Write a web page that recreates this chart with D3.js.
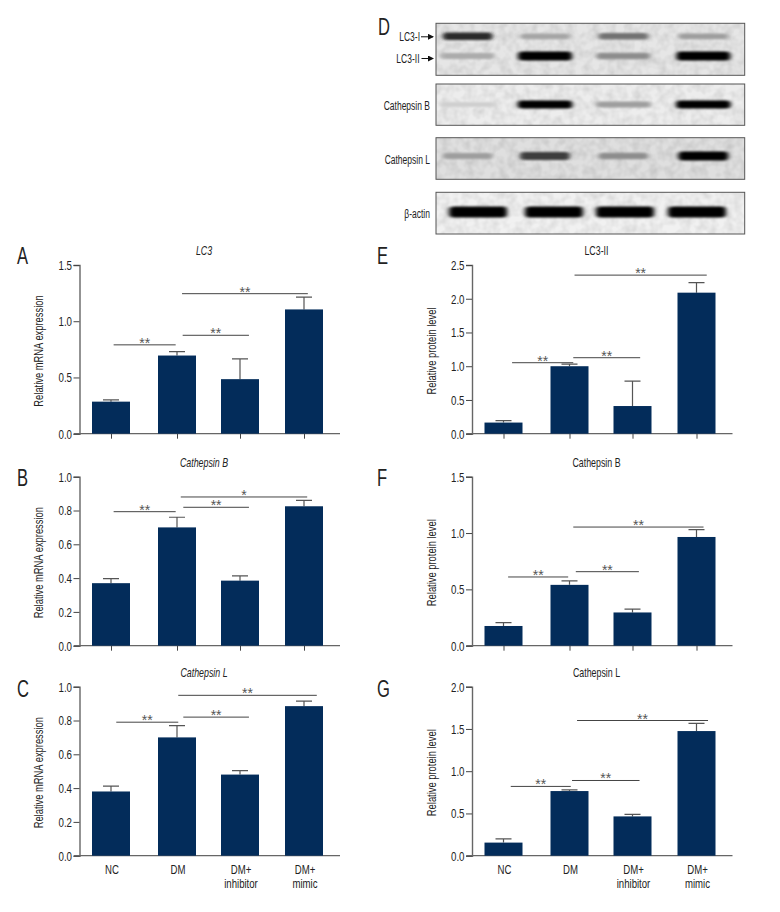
<!DOCTYPE html>
<html>
<head>
<meta charset="utf-8">
<script src="https://cdn.jsdelivr.net/npm/d3@7"></script>
<style>
  html, body { margin: 0; background: #fff; }
  text { font-family: "Liberation Sans", sans-serif; fill: #222; }
</style>
</head>
<body>
<div id="graph"></div>
<script>
const categories = ["NC", "DM", "DM+ inhibitor", "DM+ mimic"];

// bar heights and error bars
const lc3Mrna = [0.285, 0.695, 0.485, 1.105];
const lc3MrnaErr = [0.015, 0.035, 0.18, 0.11];
const catBMrna = [0.37, 0.70, 0.385, 0.825];
const catBMrnaErr = [0.027, 0.06, 0.028, 0.035];
const catLMrna = [0.38, 0.70, 0.48, 0.885];
const catLMrnaErr = [0.032, 0.07, 0.023, 0.03];
const lc3Protein = [0.165, 1.0, 0.41, 2.09];
const lc3ProteinErr = [0.03, 0.03, 0.37, 0.15];
const catBProtein = [0.175, 0.54, 0.295, 0.965];
const catBProteinErr = [0.03, 0.035, 0.03, 0.065];
const catLProtein = [0.155, 0.765, 0.465, 1.475];
const catLProteinErr = [0.045, 0.015, 0.025, 0.09];

// significance brackets: from group, to group, y value, stars
const lc3MrnaSig = [[0.04, 0.98, 0.79, "**"], [1.09, 2.14, 0.875, "**"], [1.08, 3.06, 1.245, "**"]];
const catBMrnaSig = [[0.04, 0.98, 0.793, "**"], [1.1, 2.14, 0.819, "**"], [1.06, 3.05, 0.88, "*"]];
const catLMrnaSig = [[0.08, 1.02, 0.79, "**"], [1.1, 2.14, 0.82, "**"], [1.02, 3.2, 0.949, "**"]];
const lc3ProteinSig = [[0.13, 1.06, 1.052, "**"], [1.06, 2.12, 1.126, "**"], [1.08, 3.16, 2.35, "**"]];
const catBProteinSig = [[0.07, 0.98, 0.61, "**"], [1.1, 2.1, 0.657, "**"], [1.06, 3.11, 1.053, "**"]];
const catLProteinSig = [[0.11, 1.02, 0.82, "**"], [1.04, 2.11, 0.89, "**"], [1.12, 3.18, 1.6, "**"]];

const mrnaTicks = [0, 0.2, 0.4, 0.6, 0.8, 1.0];
const lc3MrnaTicks = [0, 0.5, 1.0, 1.5];
const lc3ProteinTicks = [0, 0.5, 1.0, 1.5, 2.0, 2.5];
const catBProteinTicks = [0, 0.5, 1.0, 1.5];
const catLProteinTicks = [0, 0.5, 1.0, 1.5, 2.0];

// western blot band strength per lane, 0 to 1
const blotLc3One = [0.8, 0.25, 0.48, 0.28];
const blotLc3Two = [0.22, 1, 0.36, 1];
const blotCatB = [0.06, 1, 0.28, 1];
const blotCatL = [0.28, 0.72, 0.36, 1];
const blotActin = [1, 1, 1, 1];

const width = 780, height = 912;
const barColor = "#032c5a", axisColor = "#666";

const svg = d3.select("#graph").append("svg")
  .attr("width", width)
  .attr("height", height)
  .style("display", "block");

// no condensed font is installed, so squeeze the glyphs of each text
function narrow(sel, k = 0.68) {
  sel.each(function () {
    d3.select(this)
      .attr("textLength", this.getComputedTextLength() * k)
      .attr("lengthAdjust", "spacingAndGlyphs");
  });
  return sel;
}

const defs = svg.append("defs");
defs.append("filter").attr("id", "soft")
  .attr("x", "-20%").attr("y", "-100%").attr("width", "140%").attr("height", "300%")
  .append("feGaussianBlur").attr("stdDeviation", "2.5 1.2");

const grain = defs.append("filter").attr("id", "grain");
grain.append("feTurbulence").attr("type", "fractalNoise").attr("baseFrequency", 0.12).attr("numOctaves", 2).attr("seed", 4);
grain.append("feColorMatrix").attr("type", "matrix")
  .attr("values", "0 0 0 0 0  0 0 0 0 0  0 0 0 0 0  0.18 0 0 0 -0.06");

function drawPanel(p) {
  const y = d3.scaleLinear().domain(p.domain).range([p.top + p.h, p.top]);
  const x = d3.scaleLinear().domain([0, 1, 2, 3]).range([111, 177, 240, 304].map(d => d + p.dx));
  const g = svg.append("g");

  const yAxis = g.append("g")
    .attr("transform", `translate(${79.5 + p.dx},0)`)
    .call(d3.axisLeft(y).tickValues(p.ticks).tickFormat(d3.format(".1f")).tickSize(6).tickPadding(1.5));
  yAxis.select(".domain").attr("stroke", axisColor).attr("stroke-width", 1.4);
  yAxis.selectAll(".tick line").attr("stroke", "#444");
  yAxis.selectAll("text").style("font-size", "13.5px").attr("fill", null).call(narrow, 0.72);

  const xAxis = g.append("g")
    .attr("transform", `translate(0,${p.top + p.h})`)
    .call(d3.axisBottom(x).tickValues([0, 1, 2, 3]).tickFormat("").tickSize(p.labels ? 0 : 5).tickSizeOuter(0));
  xAxis.select(".domain").attr("d", `M${74 + p.dx},0H${340 + p.dx}`).attr("stroke", axisColor).attr("stroke-width", 1.2);
  xAxis.selectAll(".tick line").attr("stroke", "#444");

  g.selectAll(".err").data(p.values).join("path")
    .attr("class", "err")
    .attr("fill", "none").attr("stroke", "#555").attr("stroke-width", 1.2)
    .attr("d", (d, i) => `M${x(i)},${y(d)}V${y(d + p.err[i])}M${x(i) - 8},${y(d + p.err[i])}h16`);

  g.selectAll(".bar").data(p.values).join("rect")
    .attr("class", "bar")
    .attr("x", (d, i) => x(i) - 19)
    .attr("width", 38)
    .attr("y", d => y(d))
    .attr("height", d => y(0) - y(d))
    .attr("fill", barColor);

  g.selectAll(".sig").data(p.sig).join("line")
    .attr("class", "sig")
    .attr("x1", d => x(d[0])).attr("x2", d => x(d[1]))
    .attr("y1", d => y(d[2])).attr("y2", d => y(d[2]))
    .attr("stroke", "#444").attr("stroke-width", 1);

  g.selectAll(".stars").data(p.sig).join("text")
    .attr("class", "stars")
    .attr("x", d => (x(d[0]) + x(d[1])) / 2)
    .attr("y", d => y(d[2]) + 3)
    .attr("text-anchor", "middle")
    .style("font-size", "14px")
    .style("fill", "#555")
    .text(d => d[3]);

  g.append("text")
    .attr("x", 204 + p.dx).attr("y", p.top - 10)
    .attr("text-anchor", "middle")
    .style("font-size", "13px")
    .style("font-style", p.italic ? "italic" : "normal")
    .text(p.title)
    .call(narrow);

  g.append("text")
    .attr("transform", `translate(${43 + p.dx},${p.top + 86}) rotate(-90)`)
    .attr("text-anchor", "middle")
    .style("font-size", "13px")
    .text(p.yTitle)
    .call(narrow, 0.72);

  g.append("text")
    .attr("x", p.letterX).attr("y", p.letterY)
    .style("font-size", "23px")
    .text(p.letter)
    .call(narrow, 0.72);

  if (p.labels) {
    categories.forEach((c, i) => {
      c.split(" ").forEach((s, k) => {
        g.append("text")
          .attr("text-anchor", "middle")
          .attr("x", x(i) + 1)
          .attr("y", p.top + p.h + 18.5 + k * 13.5)
          .style("font-size", "12px")
          .text(s)
          .call(narrow, 0.8);
      });
    });
  }
}

const tops = [265, 476.7, 686.7];
const letterYs = [264, 485.5, 696.5];
const rightDx = 392.5;
[
  { letter: "A", title: "LC3", italic: true, top: tops[0], h: 168.7, dx: 0, domain: [0, 1.5], ticks: lc3MrnaTicks, values: lc3Mrna, err: lc3MrnaErr, sig: lc3MrnaSig, yTitle: "Relative mRNA expression", letterX: 17, letterY: letterYs[0] },
  { letter: "B", title: "Cathepsin B", italic: true, top: tops[1], h: 169, dx: 0, domain: [0, 1], ticks: mrnaTicks, values: catBMrna, err: catBMrnaErr, sig: catBMrnaSig, yTitle: "Relative mRNA expression", letterX: 17, letterY: letterYs[1] },
  { letter: "C", title: "Cathepsin L", italic: true, top: tops[2], h: 169, dx: 0, domain: [0, 1], ticks: mrnaTicks, values: catLMrna, err: catLMrnaErr, sig: catLMrnaSig, yTitle: "Relative mRNA expression", letterX: 17, letterY: letterYs[2], labels: true },
  { letter: "E", title: "LC3-II", top: tops[0], h: 168.7, dx: rightDx, domain: [0, 2.5], ticks: lc3ProteinTicks, values: lc3Protein, err: lc3ProteinErr, sig: lc3ProteinSig, yTitle: "Relative protein level", letterX: 377, letterY: letterYs[0] },
  { letter: "F", title: "Cathepsin B", top: tops[1], h: 169, dx: rightDx, domain: [0, 1.5], ticks: catBProteinTicks, values: catBProtein, err: catBProteinErr, sig: catBProteinSig, yTitle: "Relative protein level", letterX: 377, letterY: letterYs[1] },
  { letter: "G", title: "Cathepsin L", top: tops[2], h: 169, dx: rightDx, domain: [0, 2], ticks: catLProteinTicks, values: catLProtein, err: catLProteinErr, sig: catLProteinSig, yTitle: "Relative protein level", letterX: 377, letterY: letterYs[2], labels: true }
].forEach(drawPanel);

// western blot
const laneX = d3.scaleOrdinal().domain([0, 1, 2, 3]).range([467.7, 545, 623.3, 703.3]);
const actinX = d3.scaleOrdinal().domain([0, 1, 2, 3]).range([478, 554, 625, 697]);
const bandDark = d3.scaleLinear().domain([0, 1]).range(["#dcdcdc", "#000"]);

const blots = [
  { top: 23.3, h: 52, bg: "#e6e6e6", rows: [
    { cy: 36.3, values: blotLc3One, lanes: laneX, w: 50, tall: 3 },
    { cy: 56, values: blotLc3Two, lanes: laneX, w: 54, tall: 4 }
  ] },
  { top: 84, h: 41.3, bg: "#ededed", rows: [{ cy: 104.5, values: blotCatB, lanes: laneX, w: 55, tall: 3 }] },
  { top: 137.7, h: 41.6, bg: "#dfdfdf", rows: [{ cy: 156, values: blotCatL, lanes: laneX, w: 50, tall: 4 }] },
  { top: 192.3, h: 41.7, bg: "#f1f1f1", rows: [{ cy: 212, values: blotActin, lanes: actinX, w: 58, tall: 6 }] }
];

blots.forEach((b, n) => {
  const g = svg.append("g");
  defs.append("clipPath").attr("id", "blot" + n)
    .append("rect").attr("x", 436).attr("y", b.top).attr("width", 308.7).attr("height", b.h);
  const inner = g.append("g").attr("clip-path", `url(#blot${n})`);
  inner.append("rect").attr("x", 436).attr("y", b.top).attr("width", 308.7).attr("height", b.h).attr("fill", b.bg);
  inner.append("rect").attr("x", 436).attr("y", b.top).attr("width", 308.7).attr("height", b.h).attr("filter", "url(#grain)");
  b.rows.forEach(r => {
    inner.selectAll(null).data(r.values).join("rect")
      .attr("x", (d, i) => r.lanes(i) - r.w / 2)
      .attr("width", r.w)
      .attr("y", d => r.cy - (5 + r.tall * d) / 2)
      .attr("height", d => 5 + r.tall * d)
      .attr("rx", 4)
      .attr("fill", d => bandDark(d))
      .attr("filter", "url(#soft)");
  });
  g.append("rect").attr("x", 436).attr("y", b.top).attr("width", 308.7).attr("height", b.h)
    .attr("fill", "none").attr("stroke", "#555").attr("stroke-width", 1);
});

const blotLabels = [["LC3-I", 420, 41], ["LC3-II", 419.5, 62.5], ["Cathepsin B", 430, 110], ["Cathepsin L", 430, 163.5], ["β-actin", 430, 217.5]];
svg.selectAll(".blot-label").data(blotLabels).join("text")
  .attr("class", "blot-label")
  .attr("x", d => d[1]).attr("y", d => d[2])
  .attr("text-anchor", "end")
  .style("font-size", "12.5px")
  .text(d => d[0])
  .call(narrow, 0.68);

svg.append("text").attr("x", 378).attr("y", 35).style("font-size", "23px").text("D").call(narrow, 0.72);

defs.append("marker").attr("id", "tip").attr("viewBox", "0 0 6 6").attr("refX", 5).attr("refY", 3)
  .attr("markerWidth", 6).attr("markerHeight", 6).attr("orient", "auto")
  .append("path").attr("d", "M0,0L6,3L0,6Z").attr("fill", "#111");
[[421, 433, 36.8], [421.5, 433, 58.5]].forEach(a => {
  svg.append("line").attr("x1", a[0]).attr("x2", a[1]).attr("y1", a[2]).attr("y2", a[2])
    .attr("stroke", "#111").attr("stroke-width", 1).attr("marker-end", "url(#tip)");
});
</script>
</body>
</html>
